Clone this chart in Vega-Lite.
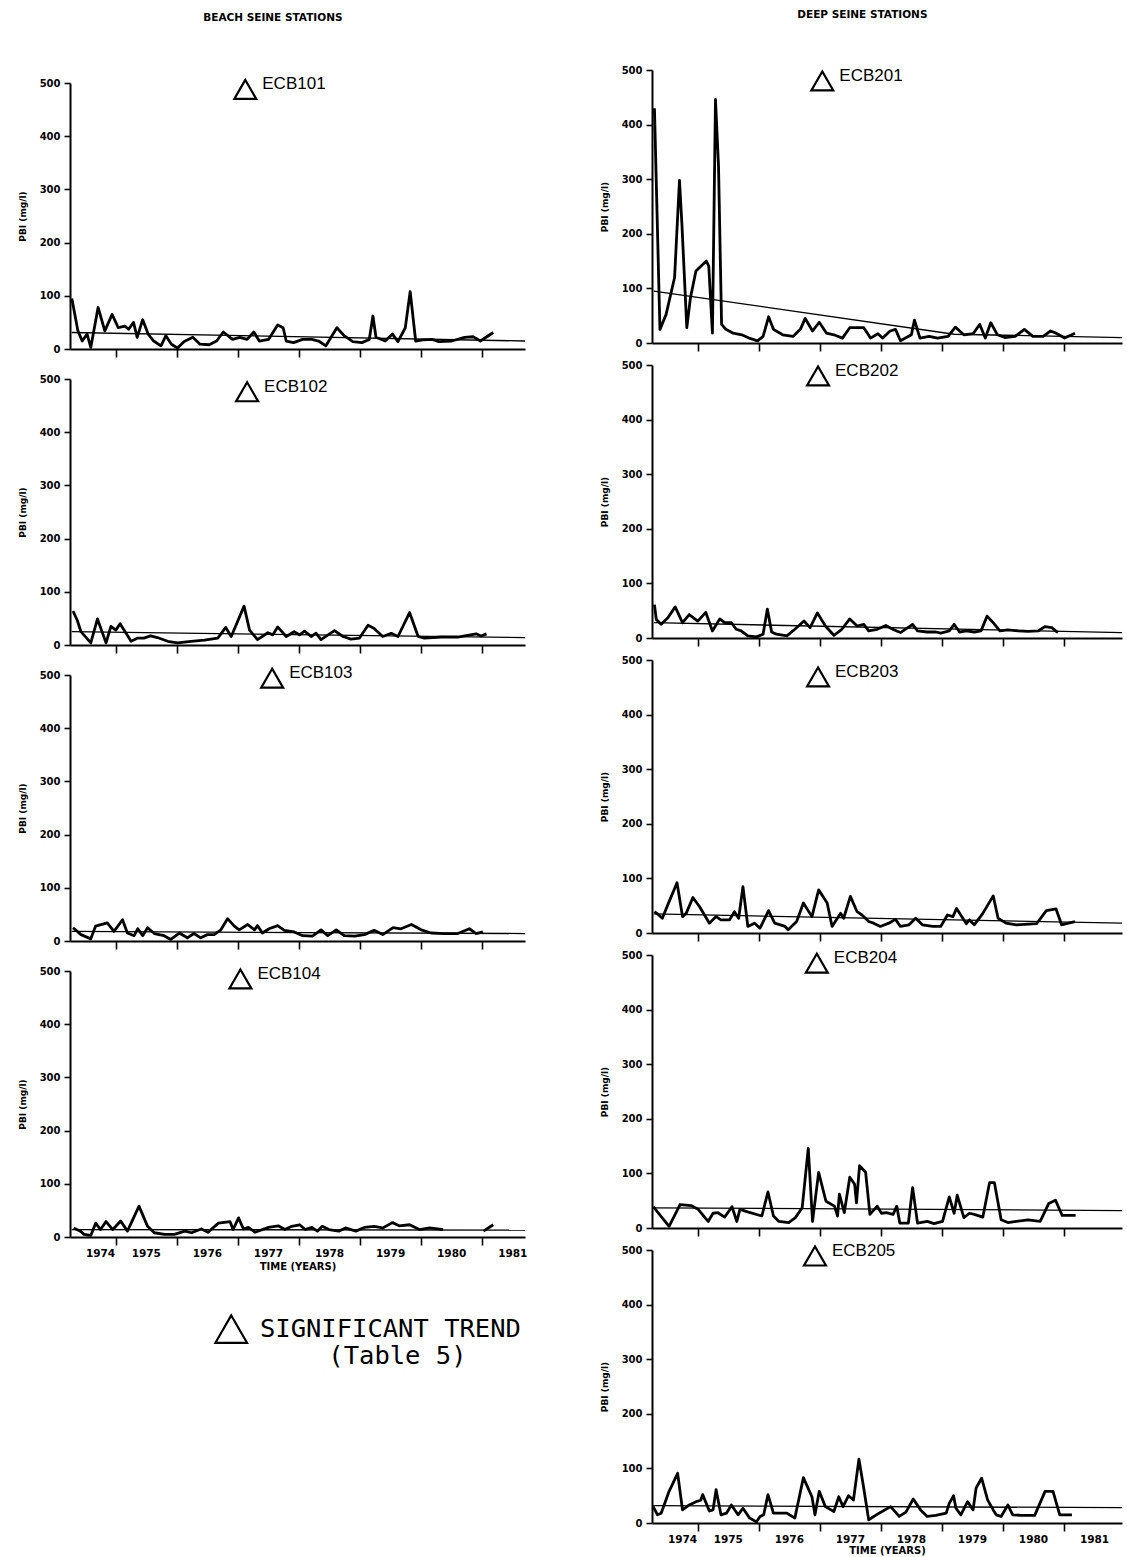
{
  "$schema": "https://vega.github.io/schema/vega-lite/v6.json",
  "background": "white",
  "padding": {"left": 18, "top": 9, "right": 0, "bottom": 0},
  "config": {
    "view": {"stroke": null},
    "axis": {
      "grid": false,
      "domainColor": "black",
      "domainWidth": 2,
      "tickColor": "black",
      "tickWidth": 1.6,
      "labelColor": "black",
      "labelFont": "DejaVu Sans",
      "labelFontWeight": "bold",
      "labelFontSize": 10,
      "labelFlush": false,
      "titleColor": "black",
      "titleFont": "DejaVu Sans",
      "titleFontWeight": "bold"
    },
    "title": {"font": "DejaVu Sans", "fontWeight": "bold", "fontSize": 10.5, "color": "black", "anchor": "middle"}
  },
  "datasets": {
    "d": [
      {"s":"ECB101","k":"o","t":1974.28,"v":95},{"s":"ECB101","k":"o","t":1974.38,"v":34},{"s":"ECB101","k":"o","t":1974.45,"v":15},{"s":"ECB101","k":"o","t":1974.53,"v":28},{"s":"ECB101","k":"o","t":1974.59,"v":3},{"s":"ECB101","k":"o","t":1974.71,"v":78},{"s":"ECB101","k":"o","t":1974.82,"v":34},{"s":"ECB101","k":"o","t":1974.94,"v":65},{"s":"ECB101","k":"o","t":1975.04,"v":40},{"s":"ECB101","k":"o","t":1975.15,"v":43},{"s":"ECB101","k":"o","t":1975.21,"v":37},{"s":"ECB101","k":"o","t":1975.29,"v":50},{"s":"ECB101","k":"o","t":1975.35,"v":22},{"s":"ECB101","k":"o","t":1975.44,"v":55},{"s":"ECB101","k":"o","t":1975.53,"v":28},{"s":"ECB101","k":"o","t":1975.62,"v":15},{"s":"ECB101","k":"o","t":1975.74,"v":6},{"s":"ECB101","k":"o","t":1975.82,"v":25},{"s":"ECB101","k":"o","t":1975.91,"v":9},{"s":"ECB101","k":"o","t":1976.01,"v":2},{"s":"ECB101","k":"o","t":1976.12,"v":14},{"s":"ECB101","k":"o","t":1976.26,"v":22},{"s":"ECB101","k":"o","t":1976.38,"v":9},{"s":"ECB101","k":"o","t":1976.53,"v":8},{"s":"ECB101","k":"o","t":1976.65,"v":15},{"s":"ECB101","k":"o","t":1976.76,"v":32},{"s":"ECB101","k":"o","t":1976.91,"v":18},{"s":"ECB101","k":"o","t":1977.03,"v":22},{"s":"ECB101","k":"o","t":1977.15,"v":18},{"s":"ECB101","k":"o","t":1977.26,"v":32},{"s":"ECB101","k":"o","t":1977.35,"v":15},{"s":"ECB101","k":"o","t":1977.5,"v":18},{"s":"ECB101","k":"o","t":1977.65,"v":45},{"s":"ECB101","k":"o","t":1977.74,"v":40},{"s":"ECB101","k":"o","t":1977.79,"v":15},{"s":"ECB101","k":"o","t":1977.91,"v":12},{"s":"ECB101","k":"o","t":1978.06,"v":18},{"s":"ECB101","k":"o","t":1978.21,"v":18},{"s":"ECB101","k":"o","t":1978.32,"v":15},{"s":"ECB101","k":"o","t":1978.44,"v":6},{"s":"ECB101","k":"o","t":1978.62,"v":40},{"s":"ECB101","k":"o","t":1978.74,"v":25},{"s":"ECB101","k":"o","t":1978.88,"v":14},{"s":"ECB101","k":"o","t":1979.03,"v":12},{"s":"ECB101","k":"o","t":1979.15,"v":18},{"s":"ECB101","k":"o","t":1979.21,"v":62},{"s":"ECB101","k":"o","t":1979.26,"v":22},{"s":"ECB101","k":"o","t":1979.41,"v":15},{"s":"ECB101","k":"o","t":1979.53,"v":28},{"s":"ECB101","k":"o","t":1979.62,"v":14},{"s":"ECB101","k":"o","t":1979.74,"v":40},{"s":"ECB101","k":"o","t":1979.82,"v":108},{"s":"ECB101","k":"o","t":1979.91,"v":15},{"s":"ECB101","k":"o","t":1980.03,"v":17},{"s":"ECB101","k":"o","t":1980.18,"v":18},{"s":"ECB101","k":"o","t":1980.29,"v":14},{"s":"ECB101","k":"o","t":1980.5,"v":15},{"s":"ECB101","k":"o","t":1980.71,"v":22},{"s":"ECB101","k":"o","t":1980.85,"v":23},{"s":"ECB101","k":"o","t":1980.97,"v":15},{"s":"ECB101","k":"o","t":1981.18,"v":31},
      {"s":"ECB101","k":"tr","t":1974.28,"v":31},{"s":"ECB101","k":"tr","t":1981.7,"v":15},
      {"s":"ECB101","k":"lab","t":1977.12,"v":488},

      {"s":"ECB102","k":"o","t":1974.3,"v":64},{"s":"ECB102","k":"o","t":1974.37,"v":46},{"s":"ECB102","k":"o","t":1974.43,"v":25},{"s":"ECB102","k":"o","t":1974.59,"v":4},{"s":"ECB102","k":"o","t":1974.7,"v":49},{"s":"ECB102","k":"o","t":1974.84,"v":4},{"s":"ECB102","k":"o","t":1974.92,"v":35},{"s":"ECB102","k":"o","t":1975.0,"v":28},{"s":"ECB102","k":"o","t":1975.07,"v":40},{"s":"ECB102","k":"o","t":1975.25,"v":7},{"s":"ECB102","k":"o","t":1975.36,"v":13},{"s":"ECB102","k":"o","t":1975.46,"v":13},{"s":"ECB102","k":"o","t":1975.57,"v":17},{"s":"ECB102","k":"o","t":1975.68,"v":14},{"s":"ECB102","k":"o","t":1975.85,"v":7},{"s":"ECB102","k":"o","t":1976.01,"v":4},{"s":"ECB102","k":"o","t":1976.23,"v":7},{"s":"ECB102","k":"o","t":1976.45,"v":9},{"s":"ECB102","k":"o","t":1976.67,"v":13},{"s":"ECB102","k":"o","t":1976.8,"v":33},{"s":"ECB102","k":"o","t":1976.89,"v":16},{"s":"ECB102","k":"o","t":1977.1,"v":73},{"s":"ECB102","k":"o","t":1977.19,"v":28},{"s":"ECB102","k":"o","t":1977.32,"v":10},{"s":"ECB102","k":"o","t":1977.49,"v":23},{"s":"ECB102","k":"o","t":1977.57,"v":19},{"s":"ECB102","k":"o","t":1977.65,"v":34},{"s":"ECB102","k":"o","t":1977.79,"v":16},{"s":"ECB102","k":"o","t":1977.92,"v":25},{"s":"ECB102","k":"o","t":1978.01,"v":19},{"s":"ECB102","k":"o","t":1978.09,"v":26},{"s":"ECB102","k":"o","t":1978.2,"v":16},{"s":"ECB102","k":"o","t":1978.28,"v":22},{"s":"ECB102","k":"o","t":1978.36,"v":10},{"s":"ECB102","k":"o","t":1978.58,"v":27},{"s":"ECB102","k":"o","t":1978.72,"v":16},{"s":"ECB102","k":"o","t":1978.85,"v":11},{"s":"ECB102","k":"o","t":1978.99,"v":13},{"s":"ECB102","k":"o","t":1979.13,"v":37},{"s":"ECB102","k":"o","t":1979.23,"v":31},{"s":"ECB102","k":"o","t":1979.37,"v":16},{"s":"ECB102","k":"o","t":1979.51,"v":22},{"s":"ECB102","k":"o","t":1979.62,"v":16},{"s":"ECB102","k":"o","t":1979.81,"v":61},{"s":"ECB102","k":"o","t":1979.95,"v":16},{"s":"ECB102","k":"o","t":1980.05,"v":13},{"s":"ECB102","k":"o","t":1980.33,"v":15},{"s":"ECB102","k":"o","t":1980.6,"v":15},{"s":"ECB102","k":"o","t":1980.9,"v":21},{"s":"ECB102","k":"o","t":1980.98,"v":17},{"s":"ECB102","k":"o","t":1981.07,"v":21},
      {"s":"ECB102","k":"tr","t":1974.28,"v":25},{"s":"ECB102","k":"tr","t":1981.7,"v":14},
      {"s":"ECB102","k":"lab","t":1977.15,"v":476},

      {"s":"ECB103","k":"o","t":1974.3,"v":25},{"s":"ECB103","k":"o","t":1974.43,"v":12},{"s":"ECB103","k":"o","t":1974.59,"v":4},{"s":"ECB103","k":"o","t":1974.67,"v":28},{"s":"ECB103","k":"o","t":1974.86,"v":34},{"s":"ECB103","k":"o","t":1974.97,"v":18},{"s":"ECB103","k":"o","t":1975.11,"v":40},{"s":"ECB103","k":"o","t":1975.19,"v":15},{"s":"ECB103","k":"o","t":1975.3,"v":10},{"s":"ECB103","k":"o","t":1975.36,"v":23},{"s":"ECB103","k":"o","t":1975.44,"v":10},{"s":"ECB103","k":"o","t":1975.52,"v":25},{"s":"ECB103","k":"o","t":1975.63,"v":14},{"s":"ECB103","k":"o","t":1975.79,"v":10},{"s":"ECB103","k":"o","t":1975.9,"v":3},{"s":"ECB103","k":"o","t":1976.04,"v":15},{"s":"ECB103","k":"o","t":1976.17,"v":6},{"s":"ECB103","k":"o","t":1976.28,"v":14},{"s":"ECB103","k":"o","t":1976.39,"v":6},{"s":"ECB103","k":"o","t":1976.5,"v":12},{"s":"ECB103","k":"o","t":1976.61,"v":12},{"s":"ECB103","k":"o","t":1976.72,"v":21},{"s":"ECB103","k":"o","t":1976.83,"v":42},{"s":"ECB103","k":"o","t":1976.94,"v":28},{"s":"ECB103","k":"o","t":1977.02,"v":21},{"s":"ECB103","k":"o","t":1977.16,"v":31},{"s":"ECB103","k":"o","t":1977.27,"v":21},{"s":"ECB103","k":"o","t":1977.32,"v":29},{"s":"ECB103","k":"o","t":1977.4,"v":15},{"s":"ECB103","k":"o","t":1977.51,"v":23},{"s":"ECB103","k":"o","t":1977.65,"v":29},{"s":"ECB103","k":"o","t":1977.76,"v":20},{"s":"ECB103","k":"o","t":1977.92,"v":17},{"s":"ECB103","k":"o","t":1978.06,"v":10},{"s":"ECB103","k":"o","t":1978.22,"v":9},{"s":"ECB103","k":"o","t":1978.36,"v":21},{"s":"ECB103","k":"o","t":1978.47,"v":10},{"s":"ECB103","k":"o","t":1978.61,"v":21},{"s":"ECB103","k":"o","t":1978.74,"v":10},{"s":"ECB103","k":"o","t":1978.91,"v":9},{"s":"ECB103","k":"o","t":1979.07,"v":12},{"s":"ECB103","k":"o","t":1979.23,"v":20},{"s":"ECB103","k":"o","t":1979.37,"v":12},{"s":"ECB103","k":"o","t":1979.54,"v":25},{"s":"ECB103","k":"o","t":1979.67,"v":23},{"s":"ECB103","k":"o","t":1979.84,"v":31},{"s":"ECB103","k":"o","t":1980.0,"v":21},{"s":"ECB103","k":"o","t":1980.16,"v":15},{"s":"ECB103","k":"o","t":1980.38,"v":14},{"s":"ECB103","k":"o","t":1980.6,"v":14},{"s":"ECB103","k":"o","t":1980.79,"v":23},{"s":"ECB103","k":"o","t":1980.9,"v":14},{"s":"ECB103","k":"o","t":1981.01,"v":17},
      {"s":"ECB103","k":"tr","t":1974.28,"v":18},{"s":"ECB103","k":"tr","t":1981.7,"v":14},
      {"s":"ECB103","k":"lab","t":1977.56,"v":494},

      {"s":"ECB104","k":"o","t":1974.31,"v":17},{"s":"ECB104","k":"o","t":1974.42,"v":11},{"s":"ECB104","k":"o","t":1974.48,"v":5},{"s":"ECB104","k":"o","t":1974.59,"v":3},{"s":"ECB104","k":"o","t":1974.67,"v":26},{"s":"ECB104","k":"o","t":1974.75,"v":14},{"s":"ECB104","k":"o","t":1974.84,"v":29},{"s":"ECB104","k":"o","t":1974.95,"v":14},{"s":"ECB104","k":"o","t":1975.08,"v":30},{"s":"ECB104","k":"o","t":1975.19,"v":11},{"s":"ECB104","k":"o","t":1975.38,"v":58},{"s":"ECB104","k":"o","t":1975.52,"v":20},{"s":"ECB104","k":"o","t":1975.63,"v":8},{"s":"ECB104","k":"o","t":1975.8,"v":5},{"s":"ECB104","k":"o","t":1975.96,"v":5},{"s":"ECB104","k":"o","t":1976.13,"v":11},{"s":"ECB104","k":"o","t":1976.24,"v":8},{"s":"ECB104","k":"o","t":1976.4,"v":15},{"s":"ECB104","k":"o","t":1976.51,"v":9},{"s":"ECB104","k":"o","t":1976.68,"v":26},{"s":"ECB104","k":"o","t":1976.87,"v":29},{"s":"ECB104","k":"o","t":1976.92,"v":14},{"s":"ECB104","k":"o","t":1977.01,"v":36},{"s":"ECB104","k":"o","t":1977.09,"v":15},{"s":"ECB104","k":"o","t":1977.17,"v":18},{"s":"ECB104","k":"o","t":1977.28,"v":9},{"s":"ECB104","k":"o","t":1977.5,"v":18},{"s":"ECB104","k":"o","t":1977.66,"v":21},{"s":"ECB104","k":"o","t":1977.77,"v":14},{"s":"ECB104","k":"o","t":1977.88,"v":20},{"s":"ECB104","k":"o","t":1978.01,"v":23},{"s":"ECB104","k":"o","t":1978.1,"v":14},{"s":"ECB104","k":"o","t":1978.21,"v":18},{"s":"ECB104","k":"o","t":1978.3,"v":11},{"s":"ECB104","k":"o","t":1978.38,"v":20},{"s":"ECB104","k":"o","t":1978.49,"v":14},{"s":"ECB104","k":"o","t":1978.65,"v":11},{"s":"ECB104","k":"o","t":1978.76,"v":17},{"s":"ECB104","k":"o","t":1978.93,"v":11},{"s":"ECB104","k":"o","t":1979.07,"v":18},{"s":"ECB104","k":"o","t":1979.23,"v":20},{"s":"ECB104","k":"o","t":1979.37,"v":17},{"s":"ECB104","k":"o","t":1979.53,"v":27},{"s":"ECB104","k":"o","t":1979.64,"v":21},{"s":"ECB104","k":"o","t":1979.81,"v":23},{"s":"ECB104","k":"o","t":1979.97,"v":14},{"s":"ECB104","k":"o","t":1980.14,"v":17},{"s":"ECB104","k":"o","t":1980.36,"v":14},
      {"s":"ECB104","k":"o","t":1981.02,"v":11,"g":2},{"s":"ECB104","k":"o","t":1981.18,"v":23,"g":2},
      {"s":"ECB104","k":"tr","t":1974.28,"v":14},{"s":"ECB104","k":"tr","t":1981.7,"v":13},
      {"s":"ECB104","k":"lab","t":1977.04,"v":485},

      {"s":"ECB201","k":"o","t":1974.29,"v":430},{"s":"ECB201","k":"o","t":1974.38,"v":25},{"s":"ECB201","k":"o","t":1974.48,"v":52},{"s":"ECB201","k":"o","t":1974.62,"v":120},{"s":"ECB201","k":"o","t":1974.7,"v":298},{"s":"ECB201","k":"o","t":1974.74,"v":218},{"s":"ECB201","k":"o","t":1974.82,"v":28},{"s":"ECB201","k":"o","t":1974.88,"v":83},{"s":"ECB201","k":"o","t":1974.97,"v":132},{"s":"ECB201","k":"o","t":1975.14,"v":150},{"s":"ECB201","k":"o","t":1975.18,"v":141},{"s":"ECB201","k":"o","t":1975.24,"v":18},{"s":"ECB201","k":"o","t":1975.29,"v":446},{"s":"ECB201","k":"o","t":1975.34,"v":323},{"s":"ECB201","k":"o","t":1975.39,"v":34},{"s":"ECB201","k":"o","t":1975.46,"v":25},{"s":"ECB201","k":"o","t":1975.58,"v":18},{"s":"ECB201","k":"o","t":1975.72,"v":15},{"s":"ECB201","k":"o","t":1975.84,"v":9},{"s":"ECB201","k":"o","t":1975.98,"v":4},{"s":"ECB201","k":"o","t":1976.07,"v":12},{"s":"ECB201","k":"o","t":1976.16,"v":48},{"s":"ECB201","k":"o","t":1976.24,"v":25},{"s":"ECB201","k":"o","t":1976.39,"v":15},{"s":"ECB201","k":"o","t":1976.56,"v":12},{"s":"ECB201","k":"o","t":1976.68,"v":25},{"s":"ECB201","k":"o","t":1976.76,"v":45},{"s":"ECB201","k":"o","t":1976.88,"v":22},{"s":"ECB201","k":"o","t":1976.99,"v":38},{"s":"ECB201","k":"o","t":1977.11,"v":18},{"s":"ECB201","k":"o","t":1977.23,"v":15},{"s":"ECB201","k":"o","t":1977.37,"v":9},{"s":"ECB201","k":"o","t":1977.49,"v":28},{"s":"ECB201","k":"o","t":1977.72,"v":28},{"s":"ECB201","k":"o","t":1977.83,"v":9},{"s":"ECB201","k":"o","t":1977.95,"v":17},{"s":"ECB201","k":"o","t":1978.03,"v":9},{"s":"ECB201","k":"o","t":1978.15,"v":22},{"s":"ECB201","k":"o","t":1978.24,"v":25},{"s":"ECB201","k":"o","t":1978.32,"v":4},{"s":"ECB201","k":"o","t":1978.5,"v":15},{"s":"ECB201","k":"o","t":1978.55,"v":42},{"s":"ECB201","k":"o","t":1978.64,"v":9},{"s":"ECB201","k":"o","t":1978.79,"v":12},{"s":"ECB201","k":"o","t":1978.93,"v":9},{"s":"ECB201","k":"o","t":1979.1,"v":12},{"s":"ECB201","k":"o","t":1979.22,"v":29},{"s":"ECB201","k":"o","t":1979.36,"v":15},{"s":"ECB201","k":"o","t":1979.51,"v":17},{"s":"ECB201","k":"o","t":1979.62,"v":34},{"s":"ECB201","k":"o","t":1979.71,"v":9},{"s":"ECB201","k":"o","t":1979.8,"v":37},{"s":"ECB201","k":"o","t":1979.91,"v":15},{"s":"ECB201","k":"o","t":1980.03,"v":10},{"s":"ECB201","k":"o","t":1980.2,"v":12},{"s":"ECB201","k":"o","t":1980.35,"v":25},{"s":"ECB201","k":"o","t":1980.49,"v":12},{"s":"ECB201","k":"o","t":1980.66,"v":12},{"s":"ECB201","k":"o","t":1980.78,"v":22},{"s":"ECB201","k":"o","t":1980.87,"v":18},{"s":"ECB201","k":"o","t":1981.01,"v":9},{"s":"ECB201","k":"o","t":1981.18,"v":18},
      {"s":"ECB201","k":"tr","t":1974.28,"v":95},{"s":"ECB201","k":"tr","t":1979.2,"v":16},{"s":"ECB201","k":"tr","t":1981.95,"v":10},
      {"s":"ECB201","k":"lab","t":1977.04,"v":480},

      {"s":"ECB202","k":"o","t":1974.29,"v":61},{"s":"ECB202","k":"o","t":1974.32,"v":34},{"s":"ECB202","k":"o","t":1974.4,"v":25},{"s":"ECB202","k":"o","t":1974.51,"v":37},{"s":"ECB202","k":"o","t":1974.63,"v":57},{"s":"ECB202","k":"o","t":1974.75,"v":28},{"s":"ECB202","k":"o","t":1974.86,"v":43},{"s":"ECB202","k":"o","t":1975.0,"v":31},{"s":"ECB202","k":"o","t":1975.13,"v":47},{"s":"ECB202","k":"o","t":1975.24,"v":13},{"s":"ECB202","k":"o","t":1975.36,"v":35},{"s":"ECB202","k":"o","t":1975.44,"v":28},{"s":"ECB202","k":"o","t":1975.55,"v":28},{"s":"ECB202","k":"o","t":1975.63,"v":16},{"s":"ECB202","k":"o","t":1975.71,"v":13},{"s":"ECB202","k":"o","t":1975.82,"v":4},{"s":"ECB202","k":"o","t":1975.96,"v":2},{"s":"ECB202","k":"o","t":1976.07,"v":7},{"s":"ECB202","k":"o","t":1976.14,"v":53},{"s":"ECB202","k":"o","t":1976.21,"v":11},{"s":"ECB202","k":"o","t":1976.29,"v":7},{"s":"ECB202","k":"o","t":1976.46,"v":4},{"s":"ECB202","k":"o","t":1976.59,"v":16},{"s":"ECB202","k":"o","t":1976.74,"v":31},{"s":"ECB202","k":"o","t":1976.84,"v":19},{"s":"ECB202","k":"o","t":1976.96,"v":46},{"s":"ECB202","k":"o","t":1977.09,"v":22},{"s":"ECB202","k":"o","t":1977.23,"v":5},{"s":"ECB202","k":"o","t":1977.36,"v":16},{"s":"ECB202","k":"o","t":1977.49,"v":35},{"s":"ECB202","k":"o","t":1977.61,"v":22},{"s":"ECB202","k":"o","t":1977.72,"v":25},{"s":"ECB202","k":"o","t":1977.8,"v":13},{"s":"ECB202","k":"o","t":1977.94,"v":16},{"s":"ECB202","k":"o","t":1978.08,"v":23},{"s":"ECB202","k":"o","t":1978.21,"v":15},{"s":"ECB202","k":"o","t":1978.32,"v":10},{"s":"ECB202","k":"o","t":1978.52,"v":25},{"s":"ECB202","k":"o","t":1978.6,"v":13},{"s":"ECB202","k":"o","t":1978.76,"v":11},{"s":"ECB202","k":"o","t":1978.9,"v":11},{"s":"ECB202","k":"o","t":1978.98,"v":9},{"s":"ECB202","k":"o","t":1979.12,"v":13},{"s":"ECB202","k":"o","t":1979.2,"v":25},{"s":"ECB202","k":"o","t":1979.29,"v":11},{"s":"ECB202","k":"o","t":1979.4,"v":13},{"s":"ECB202","k":"o","t":1979.53,"v":11},{"s":"ECB202","k":"o","t":1979.64,"v":13},{"s":"ECB202","k":"o","t":1979.74,"v":40},{"s":"ECB202","k":"o","t":1979.84,"v":28},{"s":"ECB202","k":"o","t":1979.95,"v":13},{"s":"ECB202","k":"o","t":1980.08,"v":15},{"s":"ECB202","k":"o","t":1980.25,"v":13},{"s":"ECB202","k":"o","t":1980.41,"v":12},{"s":"ECB202","k":"o","t":1980.58,"v":13},{"s":"ECB202","k":"o","t":1980.69,"v":21},{"s":"ECB202","k":"o","t":1980.8,"v":19},{"s":"ECB202","k":"o","t":1980.9,"v":10},
      {"s":"ECB202","k":"tr","t":1974.28,"v":28},{"s":"ECB202","k":"tr","t":1981.95,"v":10},
      {"s":"ECB202","k":"lab","t":1976.97,"v":480},

      {"s":"ECB203","k":"o","t":1974.29,"v":39},{"s":"ECB203","k":"o","t":1974.34,"v":35},{"s":"ECB203","k":"o","t":1974.42,"v":27},{"s":"ECB203","k":"o","t":1974.51,"v":52},{"s":"ECB203","k":"o","t":1974.66,"v":92},{"s":"ECB203","k":"o","t":1974.75,"v":30},{"s":"ECB203","k":"o","t":1974.81,"v":36},{"s":"ECB203","k":"o","t":1974.92,"v":65},{"s":"ECB203","k":"o","t":1975.03,"v":48},{"s":"ECB203","k":"o","t":1975.19,"v":18},{"s":"ECB203","k":"o","t":1975.3,"v":30},{"s":"ECB203","k":"o","t":1975.38,"v":24},{"s":"ECB203","k":"o","t":1975.52,"v":24},{"s":"ECB203","k":"o","t":1975.6,"v":39},{"s":"ECB203","k":"o","t":1975.67,"v":27},{"s":"ECB203","k":"o","t":1975.74,"v":85},{"s":"ECB203","k":"o","t":1975.82,"v":12},{"s":"ECB203","k":"o","t":1975.93,"v":18},{"s":"ECB203","k":"o","t":1976.02,"v":9},{"s":"ECB203","k":"o","t":1976.16,"v":41},{"s":"ECB203","k":"o","t":1976.26,"v":18},{"s":"ECB203","k":"o","t":1976.43,"v":12},{"s":"ECB203","k":"o","t":1976.48,"v":6},{"s":"ECB203","k":"o","t":1976.62,"v":21},{"s":"ECB203","k":"o","t":1976.73,"v":55},{"s":"ECB203","k":"o","t":1976.87,"v":30},{"s":"ECB203","k":"o","t":1976.98,"v":79},{"s":"ECB203","k":"o","t":1977.12,"v":55},{"s":"ECB203","k":"o","t":1977.2,"v":12},{"s":"ECB203","k":"o","t":1977.34,"v":36},{"s":"ECB203","k":"o","t":1977.39,"v":27},{"s":"ECB203","k":"o","t":1977.5,"v":67},{"s":"ECB203","k":"o","t":1977.61,"v":39},{"s":"ECB203","k":"o","t":1977.69,"v":33},{"s":"ECB203","k":"o","t":1977.8,"v":21},{"s":"ECB203","k":"o","t":1977.88,"v":18},{"s":"ECB203","k":"o","t":1977.99,"v":12},{"s":"ECB203","k":"o","t":1978.13,"v":18},{"s":"ECB203","k":"o","t":1978.24,"v":25},{"s":"ECB203","k":"o","t":1978.32,"v":12},{"s":"ECB203","k":"o","t":1978.46,"v":15},{"s":"ECB203","k":"o","t":1978.57,"v":27},{"s":"ECB203","k":"o","t":1978.68,"v":15},{"s":"ECB203","k":"o","t":1978.85,"v":12},{"s":"ECB203","k":"o","t":1978.98,"v":12},{"s":"ECB203","k":"o","t":1979.09,"v":33},{"s":"ECB203","k":"o","t":1979.18,"v":30},{"s":"ECB203","k":"o","t":1979.24,"v":45},{"s":"ECB203","k":"o","t":1979.4,"v":17},{"s":"ECB203","k":"o","t":1979.45,"v":24},{"s":"ECB203","k":"o","t":1979.53,"v":15},{"s":"ECB203","k":"o","t":1979.67,"v":36},{"s":"ECB203","k":"o","t":1979.84,"v":68},{"s":"ECB203","k":"o","t":1979.92,"v":27},{"s":"ECB203","k":"o","t":1980.05,"v":18},{"s":"ECB203","k":"o","t":1980.22,"v":15},{"s":"ECB203","k":"o","t":1980.55,"v":17},{"s":"ECB203","k":"o","t":1980.71,"v":41},{"s":"ECB203","k":"o","t":1980.87,"v":44},{"s":"ECB203","k":"o","t":1980.96,"v":15},{"s":"ECB203","k":"o","t":1981.04,"v":17},{"s":"ECB203","k":"o","t":1981.18,"v":21},
      {"s":"ECB203","k":"tr","t":1974.28,"v":35},{"s":"ECB203","k":"tr","t":1981.95,"v":18},
      {"s":"ECB203","k":"lab","t":1976.97,"v":469},

      {"s":"ECB204","k":"o","t":1974.27,"v":39},{"s":"ECB204","k":"o","t":1974.53,"v":3},{"s":"ECB204","k":"o","t":1974.71,"v":43},{"s":"ECB204","k":"o","t":1974.89,"v":41},{"s":"ECB204","k":"o","t":1975.0,"v":35},{"s":"ECB204","k":"o","t":1975.17,"v":12},{"s":"ECB204","k":"o","t":1975.25,"v":27},{"s":"ECB204","k":"o","t":1975.33,"v":28},{"s":"ECB204","k":"o","t":1975.44,"v":20},{"s":"ECB204","k":"o","t":1975.56,"v":39},{"s":"ECB204","k":"o","t":1975.64,"v":12},{"s":"ECB204","k":"o","t":1975.69,"v":34},{"s":"ECB204","k":"o","t":1975.83,"v":29},{"s":"ECB204","k":"o","t":1976.05,"v":22},{"s":"ECB204","k":"o","t":1976.15,"v":66},{"s":"ECB204","k":"o","t":1976.24,"v":22},{"s":"ECB204","k":"o","t":1976.33,"v":12},{"s":"ECB204","k":"o","t":1976.49,"v":10},{"s":"ECB204","k":"o","t":1976.6,"v":19},{"s":"ECB204","k":"o","t":1976.71,"v":37},{"s":"ECB204","k":"o","t":1976.81,"v":146},{"s":"ECB204","k":"o","t":1976.88,"v":12},{"s":"ECB204","k":"o","t":1976.98,"v":102},{"s":"ECB204","k":"o","t":1977.1,"v":49},{"s":"ECB204","k":"o","t":1977.24,"v":40},{"s":"ECB204","k":"o","t":1977.29,"v":22},{"s":"ECB204","k":"o","t":1977.32,"v":62},{"s":"ECB204","k":"o","t":1977.4,"v":28},{"s":"ECB204","k":"o","t":1977.49,"v":93},{"s":"ECB204","k":"o","t":1977.57,"v":80},{"s":"ECB204","k":"o","t":1977.6,"v":46},{"s":"ECB204","k":"o","t":1977.65,"v":114},{"s":"ECB204","k":"o","t":1977.75,"v":102},{"s":"ECB204","k":"o","t":1977.82,"v":25},{"s":"ECB204","k":"o","t":1977.94,"v":40},{"s":"ECB204","k":"o","t":1978.01,"v":27},{"s":"ECB204","k":"o","t":1978.09,"v":28},{"s":"ECB204","k":"o","t":1978.2,"v":25},{"s":"ECB204","k":"o","t":1978.26,"v":40},{"s":"ECB204","k":"o","t":1978.31,"v":9},{"s":"ECB204","k":"o","t":1978.45,"v":9},{"s":"ECB204","k":"o","t":1978.52,"v":74},{"s":"ECB204","k":"o","t":1978.6,"v":9},{"s":"ECB204","k":"o","t":1978.76,"v":12},{"s":"ECB204","k":"o","t":1978.87,"v":8},{"s":"ECB204","k":"o","t":1979.01,"v":12},{"s":"ECB204","k":"o","t":1979.12,"v":57},{"s":"ECB204","k":"o","t":1979.2,"v":27},{"s":"ECB204","k":"o","t":1979.25,"v":60},{"s":"ECB204","k":"o","t":1979.36,"v":19},{"s":"ECB204","k":"o","t":1979.45,"v":27},{"s":"ECB204","k":"o","t":1979.53,"v":25},{"s":"ECB204","k":"o","t":1979.67,"v":20},{"s":"ECB204","k":"o","t":1979.78,"v":83},{"s":"ECB204","k":"o","t":1979.86,"v":83},{"s":"ECB204","k":"o","t":1979.97,"v":15},{"s":"ECB204","k":"o","t":1980.08,"v":10},{"s":"ECB204","k":"o","t":1980.22,"v":12},{"s":"ECB204","k":"o","t":1980.41,"v":15},{"s":"ECB204","k":"o","t":1980.61,"v":12},{"s":"ECB204","k":"o","t":1980.75,"v":45},{"s":"ECB204","k":"o","t":1980.86,"v":51},{"s":"ECB204","k":"o","t":1980.97,"v":23},{"s":"ECB204","k":"o","t":1981.19,"v":23},
      {"s":"ECB204","k":"tr","t":1974.27,"v":37},{"s":"ECB204","k":"tr","t":1981.95,"v":32},
      {"s":"ECB204","k":"lab","t":1976.95,"v":485},

      {"s":"ECB205","k":"o","t":1974.27,"v":30},{"s":"ECB205","k":"o","t":1974.34,"v":15},{"s":"ECB205","k":"o","t":1974.4,"v":18},{"s":"ECB205","k":"o","t":1974.53,"v":58},{"s":"ECB205","k":"o","t":1974.67,"v":91},{"s":"ECB205","k":"o","t":1974.75,"v":24},{"s":"ECB205","k":"o","t":1974.86,"v":33},{"s":"ECB205","k":"o","t":1974.97,"v":39},{"s":"ECB205","k":"o","t":1975.05,"v":42},{"s":"ECB205","k":"o","t":1975.08,"v":52},{"s":"ECB205","k":"o","t":1975.19,"v":22},{"s":"ECB205","k":"o","t":1975.25,"v":24},{"s":"ECB205","k":"o","t":1975.3,"v":61},{"s":"ECB205","k":"o","t":1975.38,"v":15},{"s":"ECB205","k":"o","t":1975.47,"v":18},{"s":"ECB205","k":"o","t":1975.55,"v":33},{"s":"ECB205","k":"o","t":1975.66,"v":15},{"s":"ECB205","k":"o","t":1975.74,"v":27},{"s":"ECB205","k":"o","t":1975.85,"v":9},{"s":"ECB205","k":"o","t":1975.96,"v":2},{"s":"ECB205","k":"o","t":1976.02,"v":12},{"s":"ECB205","k":"o","t":1976.08,"v":15},{"s":"ECB205","k":"o","t":1976.15,"v":52},{"s":"ECB205","k":"o","t":1976.24,"v":18},{"s":"ECB205","k":"o","t":1976.46,"v":18},{"s":"ECB205","k":"o","t":1976.59,"v":9},{"s":"ECB205","k":"o","t":1976.73,"v":83},{"s":"ECB205","k":"o","t":1976.87,"v":48},{"s":"ECB205","k":"o","t":1976.92,"v":15},{"s":"ECB205","k":"o","t":1976.99,"v":58},{"s":"ECB205","k":"o","t":1977.09,"v":30},{"s":"ECB205","k":"o","t":1977.23,"v":21},{"s":"ECB205","k":"o","t":1977.31,"v":48},{"s":"ECB205","k":"o","t":1977.38,"v":30},{"s":"ECB205","k":"o","t":1977.47,"v":50},{"s":"ECB205","k":"o","t":1977.55,"v":42},{"s":"ECB205","k":"o","t":1977.64,"v":117},{"s":"ECB205","k":"o","t":1977.71,"v":70},{"s":"ECB205","k":"o","t":1977.8,"v":6},{"s":"ECB205","k":"o","t":1977.97,"v":18},{"s":"ECB205","k":"o","t":1978.16,"v":30},{"s":"ECB205","k":"o","t":1978.3,"v":12},{"s":"ECB205","k":"o","t":1978.41,"v":20},{"s":"ECB205","k":"o","t":1978.53,"v":44},{"s":"ECB205","k":"o","t":1978.65,"v":24},{"s":"ECB205","k":"o","t":1978.76,"v":12},{"s":"ECB205","k":"o","t":1978.9,"v":14},{"s":"ECB205","k":"o","t":1979.07,"v":18},{"s":"ECB205","k":"o","t":1979.12,"v":36},{"s":"ECB205","k":"o","t":1979.19,"v":50},{"s":"ECB205","k":"o","t":1979.23,"v":27},{"s":"ECB205","k":"o","t":1979.31,"v":15},{"s":"ECB205","k":"o","t":1979.42,"v":39},{"s":"ECB205","k":"o","t":1979.51,"v":24},{"s":"ECB205","k":"o","t":1979.56,"v":64},{"s":"ECB205","k":"o","t":1979.65,"v":82},{"s":"ECB205","k":"o","t":1979.75,"v":42},{"s":"ECB205","k":"o","t":1979.84,"v":24},{"s":"ECB205","k":"o","t":1979.89,"v":15},{"s":"ECB205","k":"o","t":1979.97,"v":12},{"s":"ECB205","k":"o","t":1980.08,"v":33},{"s":"ECB205","k":"o","t":1980.16,"v":15},{"s":"ECB205","k":"o","t":1980.3,"v":14},{"s":"ECB205","k":"o","t":1980.52,"v":14},{"s":"ECB205","k":"o","t":1980.69,"v":58},{"s":"ECB205","k":"o","t":1980.82,"v":58},{"s":"ECB205","k":"o","t":1980.93,"v":15},{"s":"ECB205","k":"o","t":1981.13,"v":15},
      {"s":"ECB205","k":"tr","t":1974.27,"v":32},{"s":"ECB205","k":"tr","t":1981.95,"v":28},
      {"s":"ECB205","k":"lab","t":1976.92,"v":489}
    ],
    "legend": [
      {"k":"tri","t":1976.89,"r":2.3,"txt":""},
      {"k":"txt","t":1977.36,"r":2.3,"txt":"SIGNIFICANT TREND"},
      {"k":"txt","t":1978.48,"r":3.3,"txt":"(Table 5)"}
    ]
  },
  "spacing": 72,
  "hconcat": [
    {
      "title": {"text": "BEACH SEINE STATIONS", "offset": 47},
      "bounds": "flush",
      "spacing": 0,
      "vconcat": [
        {"width": 455, "height": 13, "data": {"values": [{"z": 0}]}, "mark": {"type": "point", "opacity": 0}},
        {
          "bounds": "flush",
          "spacing": 30,
          "vconcat": [
            {
              "width": 455, "height": 266,
              "data": {"name": "d"},
              "transform": [{"filter": "datum.s === 'ECB101'"}],
              "encoding": {
                "x": {"field": "t", "type": "quantitative", "scale": {"domain": [1974.25, 1981.7], "nice": false, "zero": false},
                      "axis": {"values": [1974.25, 1975, 1976, 1977, 1978, 1979, 1980, 1981], "labels": false, "title": null, "tickSize": 8, "tickOpacity": {"condition": {"test": "datum.value < 1974.9", "value": 0}, "value": 1}}},
                "y": {"field": "v", "type": "quantitative", "scale": {"domain": [0, 500]},
                      "axis": {"values": [0, 100, 200, 300, 400, 500], "title": "PBI (mg/l)", "titleFontSize": 9, "titlePadding": 12, "tickSize": 6, "labelPadding": 4}}
              },
              "layer": [
                {"transform": [{"filter": "datum.k === 'o'"}], "mark": {"type": "line", "color": "black", "strokeWidth": 2.8, "strokeJoin": "round"}, "encoding": {"detail": {"field": "g"}}},
                {"transform": [{"filter": "datum.k === 'tr'"}], "mark": {"type": "line", "color": "black", "strokeWidth": 1.3}},
                {"transform": [{"filter": "datum.k === 'lab'"}], "mark": {"type": "point", "shape": "triangle-up", "filled": false, "color": "black", "strokeWidth": 2.2, "size": 480, "opacity": 1}},
                {"transform": [{"filter": "datum.k === 'lab'"}], "mark": {"type": "text", "align": "left", "baseline": "middle", "dx": 17, "dy": -5, "fontSize": 17, "font": "Liberation Sans", "color": "black"}, "encoding": {"text": {"field": "s"}}}
              ]
            },
            {
              "width": 455, "height": 266,
              "data": {"name": "d"},
              "transform": [{"filter": "datum.s === 'ECB102'"}],
              "encoding": {
                "x": {"field": "t", "type": "quantitative", "scale": {"domain": [1974.25, 1981.7], "nice": false, "zero": false},
                      "axis": {"values": [1974.25, 1975, 1976, 1977, 1978, 1979, 1980, 1981], "labels": false, "title": null, "tickSize": 8, "tickOpacity": {"condition": {"test": "datum.value < 1974.9", "value": 0}, "value": 1}}},
                "y": {"field": "v", "type": "quantitative", "scale": {"domain": [0, 500]},
                      "axis": {"values": [0, 100, 200, 300, 400, 500], "title": "PBI (mg/l)", "titleFontSize": 9, "titlePadding": 12, "tickSize": 6, "labelPadding": 4}}
              },
              "layer": [
                {"transform": [{"filter": "datum.k === 'o'"}], "mark": {"type": "line", "color": "black", "strokeWidth": 2.8, "strokeJoin": "round"}, "encoding": {"detail": {"field": "g"}}},
                {"transform": [{"filter": "datum.k === 'tr'"}], "mark": {"type": "line", "color": "black", "strokeWidth": 1.3}},
                {"transform": [{"filter": "datum.k === 'lab'"}], "mark": {"type": "point", "shape": "triangle-up", "filled": false, "color": "black", "strokeWidth": 2.2, "size": 480, "opacity": 1}},
                {"transform": [{"filter": "datum.k === 'lab'"}], "mark": {"type": "text", "align": "left", "baseline": "middle", "dx": 17, "dy": -5, "fontSize": 17, "font": "Liberation Sans", "color": "black"}, "encoding": {"text": {"field": "s"}}}
              ]
            },
            {
              "width": 455, "height": 266,
              "data": {"name": "d"},
              "transform": [{"filter": "datum.s === 'ECB103'"}],
              "encoding": {
                "x": {"field": "t", "type": "quantitative", "scale": {"domain": [1974.25, 1981.7], "nice": false, "zero": false},
                      "axis": {"values": [1974.25, 1975, 1976, 1977, 1978, 1979, 1980, 1981], "labels": false, "title": null, "tickSize": 8, "tickOpacity": {"condition": {"test": "datum.value < 1974.9", "value": 0}, "value": 1}}},
                "y": {"field": "v", "type": "quantitative", "scale": {"domain": [0, 500]},
                      "axis": {"values": [0, 100, 200, 300, 400, 500], "title": "PBI (mg/l)", "titleFontSize": 9, "titlePadding": 12, "tickSize": 6, "labelPadding": 4}}
              },
              "layer": [
                {"transform": [{"filter": "datum.k === 'o'"}], "mark": {"type": "line", "color": "black", "strokeWidth": 2.8, "strokeJoin": "round"}, "encoding": {"detail": {"field": "g"}}},
                {"transform": [{"filter": "datum.k === 'tr'"}], "mark": {"type": "line", "color": "black", "strokeWidth": 1.3}},
                {"transform": [{"filter": "datum.k === 'lab'"}], "mark": {"type": "point", "shape": "triangle-up", "filled": false, "color": "black", "strokeWidth": 2.2, "size": 480, "opacity": 1}},
                {"transform": [{"filter": "datum.k === 'lab'"}], "mark": {"type": "text", "align": "left", "baseline": "middle", "dx": 17, "dy": -5, "fontSize": 17, "font": "Liberation Sans", "color": "black"}, "encoding": {"text": {"field": "s"}}}
              ]
            },
            {
              "width": 455, "height": 266,
              "data": {"name": "d"},
              "transform": [{"filter": "datum.s === 'ECB104'"}],
              "encoding": {
                "x": {"field": "t", "type": "quantitative", "scale": {"domain": [1974.25, 1981.7], "nice": false, "zero": false},
                      "axis": {"values": [1974.25, 1975, 1976, 1977, 1978, 1979, 1980, 1981], "labelExpr": "'' + floor(datum.value)", "labelOffset": 30, "labelPadding": 3, "labelFontSize": 10.5, "labelOverlap": false, "title": "TIME (YEARS)", "titleFontSize": 10, "titlePadding": 3, "tickSize": 8, "tickOpacity": {"condition": {"test": "datum.value < 1974.9", "value": 0}, "value": 1}}},
                "y": {"field": "v", "type": "quantitative", "scale": {"domain": [0, 500]},
                      "axis": {"values": [0, 100, 200, 300, 400, 500], "title": "PBI (mg/l)", "titleFontSize": 9, "titlePadding": 12, "tickSize": 6, "labelPadding": 4}}
              },
              "layer": [
                {"transform": [{"filter": "datum.k === 'o'"}], "mark": {"type": "line", "color": "black", "strokeWidth": 2.8, "strokeJoin": "round"}, "encoding": {"detail": {"field": "g"}}},
                {"transform": [{"filter": "datum.k === 'tr'"}], "mark": {"type": "line", "color": "black", "strokeWidth": 1.3}},
                {"transform": [{"filter": "datum.k === 'lab'"}], "mark": {"type": "point", "shape": "triangle-up", "filled": false, "color": "black", "strokeWidth": 2.2, "size": 480, "opacity": 1}},
                {"transform": [{"filter": "datum.k === 'lab'"}], "mark": {"type": "text", "align": "left", "baseline": "middle", "dx": 17, "dy": -5, "fontSize": 17, "font": "Liberation Sans", "color": "black"}, "encoding": {"text": {"field": "s"}}}
              ]
            },
            {
              "width": 455, "height": 108,
              "data": {"name": "legend"},
              "encoding": {
                "x": {"field": "t", "type": "quantitative", "scale": {"domain": [1974.25, 1981.7], "nice": false, "zero": false}, "axis": null},
                "y": {"field": "r", "type": "quantitative", "scale": {"domain": [0, 4], "reverse": true, "nice": false}, "axis": null}
              },
              "layer": [
                {"transform": [{"filter": "datum.k === 'tri'"}], "mark": {"type": "point", "shape": "triangle-up", "filled": false, "color": "black", "strokeWidth": 2.2, "size": 1000, "opacity": 1}},
                {"transform": [{"filter": "datum.k === 'txt'"}], "mark": {"type": "text", "align": "left", "baseline": "middle", "fontSize": 25.5, "font": "DejaVu Sans Mono", "color": "black"}, "encoding": {"text": {"field": "txt"}}}
              ]
            }
          ]
        }
      ]
    },
    {
      "title": {"text": "DEEP SEINE STATIONS", "offset": 45},
      "bounds": "flush",
      "spacing": 22,
      "vconcat": [
        {
          "width": 470, "height": 273,
          "data": {"name": "d"},
          "transform": [{"filter": "datum.s === 'ECB201'"}],
          "encoding": {
            "x": {"field": "t", "type": "quantitative", "scale": {"domain": [1974.25, 1981.95], "nice": false, "zero": false},
                  "axis": {"values": [1974.25, 1975, 1976, 1977, 1978, 1979, 1980, 1981], "labels": false, "title": null, "tickSize": 8, "tickOpacity": {"condition": {"test": "datum.value < 1974.9", "value": 0}, "value": 1}}},
            "y": {"field": "v", "type": "quantitative", "scale": {"domain": [0, 500]},
                  "axis": {"values": [0, 100, 200, 300, 400, 500], "title": "PBI (mg/l)", "titleFontSize": 9, "titlePadding": 12, "tickSize": 6, "labelPadding": 4}}
          },
          "layer": [
            {"transform": [{"filter": "datum.k === 'o'"}], "mark": {"type": "line", "color": "black", "strokeWidth": 2.8, "strokeJoin": "round"}, "encoding": {"detail": {"field": "g"}}},
            {"transform": [{"filter": "datum.k === 'tr'"}], "mark": {"type": "line", "color": "black", "strokeWidth": 1.3}},
            {"transform": [{"filter": "datum.k === 'lab'"}], "mark": {"type": "point", "shape": "triangle-up", "filled": false, "color": "black", "strokeWidth": 2.2, "size": 480, "opacity": 1}},
            {"transform": [{"filter": "datum.k === 'lab'"}], "mark": {"type": "text", "align": "left", "baseline": "middle", "dx": 17, "dy": -5, "fontSize": 17, "font": "Liberation Sans", "color": "black"}, "encoding": {"text": {"field": "s"}}}
          ]
        },
        {
          "width": 470, "height": 273,
          "data": {"name": "d"},
          "transform": [{"filter": "datum.s === 'ECB202'"}],
          "encoding": {
            "x": {"field": "t", "type": "quantitative", "scale": {"domain": [1974.25, 1981.95], "nice": false, "zero": false},
                  "axis": {"values": [1974.25, 1975, 1976, 1977, 1978, 1979, 1980, 1981], "labels": false, "title": null, "tickSize": 8, "tickOpacity": {"condition": {"test": "datum.value < 1974.9", "value": 0}, "value": 1}}},
            "y": {"field": "v", "type": "quantitative", "scale": {"domain": [0, 500]},
                  "axis": {"values": [0, 100, 200, 300, 400, 500], "title": "PBI (mg/l)", "titleFontSize": 9, "titlePadding": 12, "tickSize": 6, "labelPadding": 4}}
          },
          "layer": [
            {"transform": [{"filter": "datum.k === 'o'"}], "mark": {"type": "line", "color": "black", "strokeWidth": 2.8, "strokeJoin": "round"}, "encoding": {"detail": {"field": "g"}}},
            {"transform": [{"filter": "datum.k === 'tr'"}], "mark": {"type": "line", "color": "black", "strokeWidth": 1.3}},
            {"transform": [{"filter": "datum.k === 'lab'"}], "mark": {"type": "point", "shape": "triangle-up", "filled": false, "color": "black", "strokeWidth": 2.2, "size": 480, "opacity": 1}},
            {"transform": [{"filter": "datum.k === 'lab'"}], "mark": {"type": "text", "align": "left", "baseline": "middle", "dx": 17, "dy": -5, "fontSize": 17, "font": "Liberation Sans", "color": "black"}, "encoding": {"text": {"field": "s"}}}
          ]
        },
        {
          "width": 470, "height": 273,
          "data": {"name": "d"},
          "transform": [{"filter": "datum.s === 'ECB203'"}],
          "encoding": {
            "x": {"field": "t", "type": "quantitative", "scale": {"domain": [1974.25, 1981.95], "nice": false, "zero": false},
                  "axis": {"values": [1974.25, 1975, 1976, 1977, 1978, 1979, 1980, 1981], "labels": false, "title": null, "tickSize": 8, "tickOpacity": {"condition": {"test": "datum.value < 1974.9", "value": 0}, "value": 1}}},
            "y": {"field": "v", "type": "quantitative", "scale": {"domain": [0, 500]},
                  "axis": {"values": [0, 100, 200, 300, 400, 500], "title": "PBI (mg/l)", "titleFontSize": 9, "titlePadding": 12, "tickSize": 6, "labelPadding": 4}}
          },
          "layer": [
            {"transform": [{"filter": "datum.k === 'o'"}], "mark": {"type": "line", "color": "black", "strokeWidth": 2.8, "strokeJoin": "round"}, "encoding": {"detail": {"field": "g"}}},
            {"transform": [{"filter": "datum.k === 'tr'"}], "mark": {"type": "line", "color": "black", "strokeWidth": 1.3}},
            {"transform": [{"filter": "datum.k === 'lab'"}], "mark": {"type": "point", "shape": "triangle-up", "filled": false, "color": "black", "strokeWidth": 2.2, "size": 480, "opacity": 1}},
            {"transform": [{"filter": "datum.k === 'lab'"}], "mark": {"type": "text", "align": "left", "baseline": "middle", "dx": 17, "dy": -5, "fontSize": 17, "font": "Liberation Sans", "color": "black"}, "encoding": {"text": {"field": "s"}}}
          ]
        },
        {
          "width": 470, "height": 273,
          "data": {"name": "d"},
          "transform": [{"filter": "datum.s === 'ECB204'"}],
          "encoding": {
            "x": {"field": "t", "type": "quantitative", "scale": {"domain": [1974.25, 1981.95], "nice": false, "zero": false},
                  "axis": {"values": [1974.25, 1975, 1976, 1977, 1978, 1979, 1980, 1981], "labels": false, "title": null, "tickSize": 8, "tickOpacity": {"condition": {"test": "datum.value < 1974.9", "value": 0}, "value": 1}}},
            "y": {"field": "v", "type": "quantitative", "scale": {"domain": [0, 500]},
                  "axis": {"values": [0, 100, 200, 300, 400, 500], "title": "PBI (mg/l)", "titleFontSize": 9, "titlePadding": 12, "tickSize": 6, "labelPadding": 4}}
          },
          "layer": [
            {"transform": [{"filter": "datum.k === 'o'"}], "mark": {"type": "line", "color": "black", "strokeWidth": 2.8, "strokeJoin": "round"}, "encoding": {"detail": {"field": "g"}}},
            {"transform": [{"filter": "datum.k === 'tr'"}], "mark": {"type": "line", "color": "black", "strokeWidth": 1.3}},
            {"transform": [{"filter": "datum.k === 'lab'"}], "mark": {"type": "point", "shape": "triangle-up", "filled": false, "color": "black", "strokeWidth": 2.2, "size": 480, "opacity": 1}},
            {"transform": [{"filter": "datum.k === 'lab'"}], "mark": {"type": "text", "align": "left", "baseline": "middle", "dx": 17, "dy": -5, "fontSize": 17, "font": "Liberation Sans", "color": "black"}, "encoding": {"text": {"field": "s"}}}
          ]
        },
        {
          "width": 470, "height": 273,
          "data": {"name": "d"},
          "transform": [{"filter": "datum.s === 'ECB205'"}],
          "encoding": {
            "x": {"field": "t", "type": "quantitative", "scale": {"domain": [1974.25, 1981.95], "nice": false, "zero": false},
                  "axis": {"values": [1974.25, 1975, 1976, 1977, 1978, 1979, 1980, 1981], "labelExpr": "'' + floor(datum.value)", "labelOffset": 30, "labelPadding": 3, "labelFontSize": 10.5, "labelOverlap": false, "title": "TIME (YEARS)", "titleFontSize": 10, "titlePadding": 1, "tickSize": 8, "tickOpacity": {"condition": {"test": "datum.value < 1974.9", "value": 0}, "value": 1}}},
            "y": {"field": "v", "type": "quantitative", "scale": {"domain": [0, 500]},
                  "axis": {"values": [0, 100, 200, 300, 400, 500], "title": "PBI (mg/l)", "titleFontSize": 9, "titlePadding": 12, "tickSize": 6, "labelPadding": 4}}
          },
          "layer": [
            {"transform": [{"filter": "datum.k === 'o'"}], "mark": {"type": "line", "color": "black", "strokeWidth": 2.8, "strokeJoin": "round"}, "encoding": {"detail": {"field": "g"}}},
            {"transform": [{"filter": "datum.k === 'tr'"}], "mark": {"type": "line", "color": "black", "strokeWidth": 1.3}},
            {"transform": [{"filter": "datum.k === 'lab'"}], "mark": {"type": "point", "shape": "triangle-up", "filled": false, "color": "black", "strokeWidth": 2.2, "size": 480, "opacity": 1}},
            {"transform": [{"filter": "datum.k === 'lab'"}], "mark": {"type": "text", "align": "left", "baseline": "middle", "dx": 17, "dy": -5, "fontSize": 17, "font": "Liberation Sans", "color": "black"}, "encoding": {"text": {"field": "s"}}}
          ]
        }
      ]
    }
  ]
}
